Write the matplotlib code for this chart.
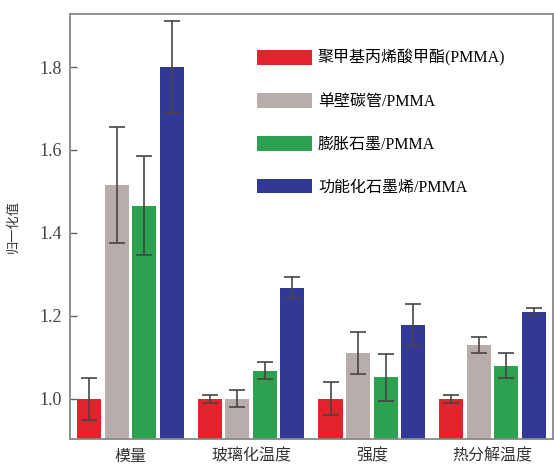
import numpy as np
import matplotlib.pyplot as plt

plt.rcParams['font.family'] = ['Liberation Serif', 'Noto Sans CJK SC']

categories = ['模量', '玻璃化温度', '强度', '热分解温度']
series_names = ['聚甲基丙烯酸甲酯(PMMA)', '单壁碳管/PMMA', '膨胀石墨/PMMA', '功能化石墨烯/PMMA']
colors = ['#e3232c', '#b7adab', '#2ca251', '#313895']

pmma = [1.00, 1.00, 1.00, 1.00]
pmma_err = [0.05, 0.01, 0.04, 0.01]
swcnt = [1.515, 1.00, 1.11, 1.13]
swcnt_err = [0.14, 0.02, 0.05, 0.02]
eg = [1.466, 1.068, 1.052, 1.08]
eg_err = [0.12, 0.02, 0.057, 0.03]
fgs = [1.80, 1.268, 1.178, 1.21]
fgs_err = [0.11, 0.026, 0.05, 0.008]

values = [pmma, swcnt, eg, fgs]
errors = [pmma_err, swcnt_err, eg_err, fgs_err]

fig = plt.figure(figsize=(5.54, 4.65), dpi=100)
ax = fig.add_axes([0.1264, 0.0559, 0.8716, 0.914])

x = np.arange(len(categories))
width = 0.2
step = 0.228
for i in range(4):
    ax.bar(x + (i - 1.5) * step, values[i], width, color=colors[i],
           label=series_names[i], yerr=errors[i], capsize=5.5,
           error_kw=dict(ecolor='#4a4444', elinewidth=1.2, capthick=1.2))

ax.set_xlim(-0.5, 3.5)
ax.set_ylim(0.903, 1.928)
ax.set_yticks([1.0, 1.2, 1.4, 1.6, 1.8])
ax.set_yticklabels(['1.0', '1.2', '1.4', '1.6', '1.8'], fontsize=13, color='#444444')
ax.set_xticks(x)
ax.set_xticklabels(categories, fontsize=11.5, color='#333333')
ax.tick_params(axis='y', direction='in', length=5, width=1, color='#666666', pad=6)
ax.tick_params(axis='x', length=0, pad=7)
ax.set_ylabel('归一化值', fontsize=9.5, color='#333333', labelpad=14)
for s in ax.spines.values():
    s.set_color('#888888')
    s.set_linewidth(1.3)

ax.legend(loc='upper left', bbox_to_anchor=(0.371, 0.935), frameon=False,
          fontsize=11.5, handlelength=3.45, handleheight=1.05,
          labelspacing=1.63, handletextpad=0.35, borderpad=0)

fig.savefig('out.png', dpi=100)
